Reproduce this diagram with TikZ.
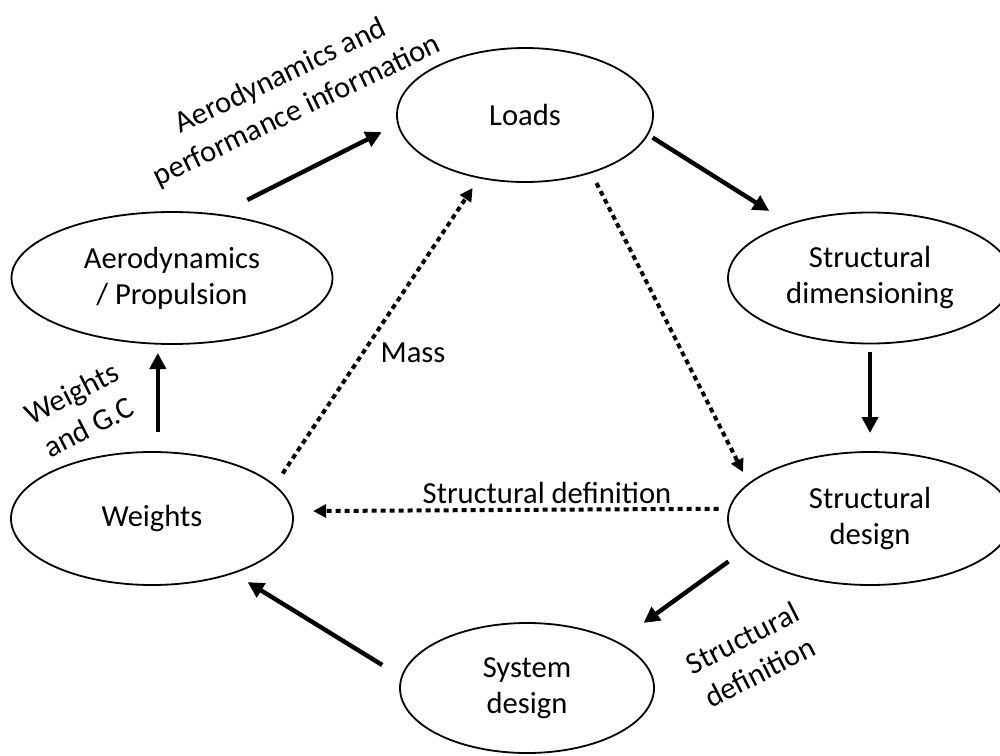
\documentclass[tikz,border=0pt]{standalone}
\usepackage{fontspec}
\setmainfont{Carlito}
\usetikzlibrary{arrows.meta,shapes.geometric}

\begin{document}
\begin{tikzpicture}[x=0.5pt, y=-0.5pt, >={Triangle[length=8pt,width=8pt]},
        box/.style={ellipse, draw, line width=0.9pt, inner sep=0pt, outer sep=0pt,
            align=center, font=\fontsize{15.3}{18}\selectfont},
        lbl/.style={align=center, font=\fontsize{15.3}{19}\selectfont},
        flow/.style={->, line width=2.2pt},
        info/.style={-{Triangle[length=6.5pt,width=6.5pt]}, line width=2pt,
            dash pattern=on 2.5pt off 2pt}]
        \useasboundingbox (0,0) rectangle (1000,755);

        % Disciplines
        \node[box, minimum width=128pt, minimum height=67pt] (loads) at (525,115) {Loads};
        \node[box, minimum width=160.5pt, minimum height=66pt] (aero) at (172,278) {Aerodynamics\\/ Propulsion};
        \node[box, minimum width=142pt, minimum height=65.5pt] (sdim) at (870,278) {Structural\\dimensioning};
        \node[box, minimum width=141pt, minimum height=66.5pt] (weights) at (152,518.5) {Weights};
        \node[box, minimum width=142pt, minimum height=66.5pt] (sdesign) at (870,518.5) {Structural\\design};
        \node[box, minimum width=127pt, minimum height=65pt] (system) at (527,688) {System\\design};

        % Main loop
        \draw[flow, shorten <=16.5pt, shorten >=9.2pt] (aero.54.4) -- (loads.184.5);
        \draw[flow, shorten <=3pt, shorten >=12.2pt] (loads.351.4) -- (sdim.146.9);
        \draw[flow, shorten <=4.3pt, shorten >=9.5pt] (sdim.south) -- (sdesign.north);
        \draw[flow, shorten <=10pt, shorten >=16.4pt] (sdesign.194.7) -- (system.27.4);
        \draw[flow, shorten <=11.5pt, shorten >=8.7pt] (system.175) -- (weights.326.2);
        \draw[flow, shorten <=10pt, shorten >=4.5pt] (weights.85) -- (weights.85 |- aero.south);

        % Feedback (dotted)
        \draw[info, shorten <=7.3pt, shorten >=6.2pt] (weights.15.4) -- (loads.234.3);
        \draw[info, shorten <=6pt, shorten >=6.5pt] (loads.319.3) -- (sdesign.164.5);
        \draw[info, shorten <=5.5pt, shorten >=10.5pt] (sdesign.176.5) -- (weights.3.5);

        % Labels
        \node[lbl, rotate=25.5] (aerolbl) at (289,94) {Aerodynamics and\\performance information};
        \node[lbl, rotate=27] (wgclbl) at (80,410) {Weights\\and G.C};
        \node[lbl] (masslbl) at (413,353) {Mass};
        \node[lbl] (sdeflbl) at (547,493) {Structural definition};
        \node[lbl, rotate=27] (sdeflbl2) at (751,655) {Structural\\definition};
    \end{tikzpicture}
\end{document}
